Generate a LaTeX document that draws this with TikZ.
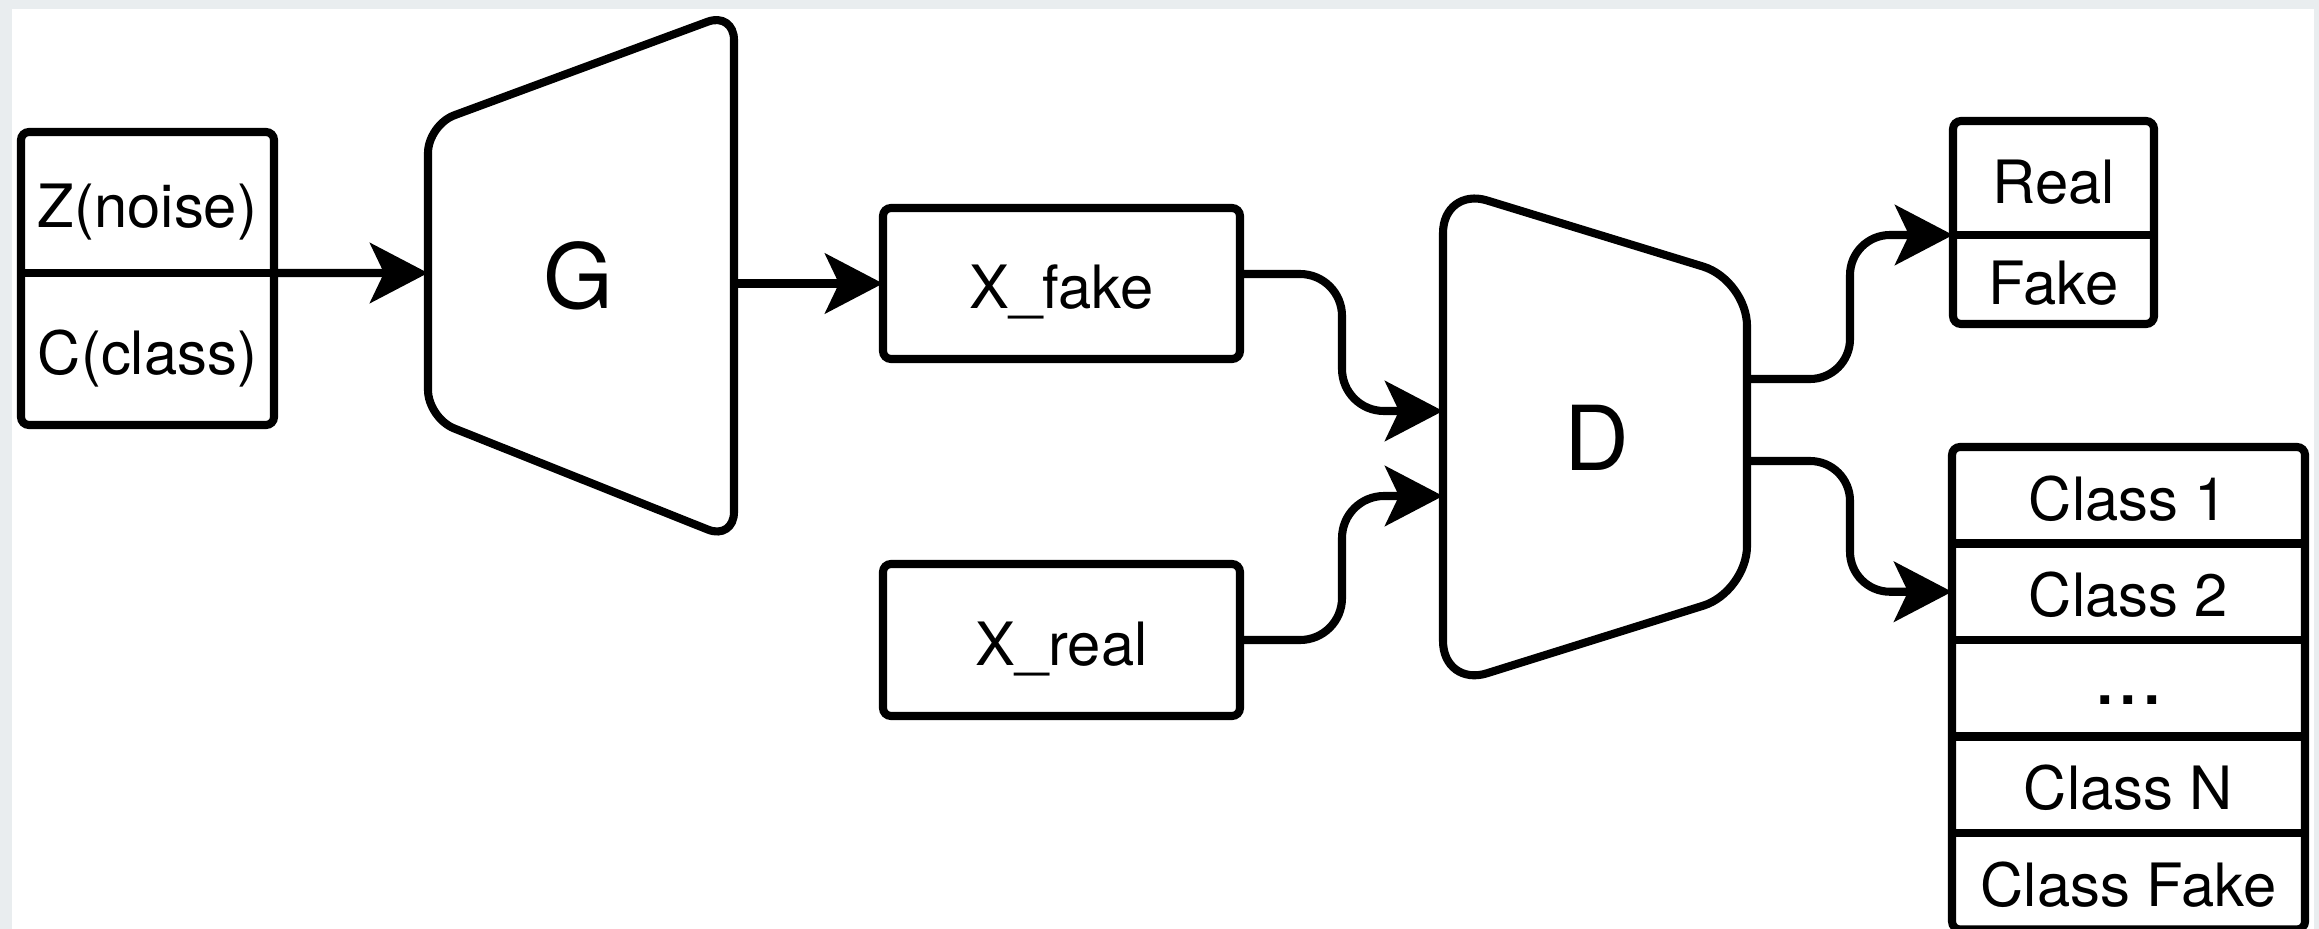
\documentclass[tikz,border=0pt]{standalone}
\usepackage{fontspec}
\setmainfont{TeX Gyre Heros}
\usetikzlibrary{arrows.meta,positioning}
\definecolor{framegray}{RGB}{233,237,239}
\tikzset{
  stroke/.style={line width=2.3pt},
  box/.style={stroke, draw, rounded corners=0.8mm},
  cell/.style={inner sep=0pt, outer sep=0pt, text height=5mm, text depth=0pt,
    font=\fontsize{17}{20}\selectfont},
  big/.style={inner sep=0pt, font=\fontsize{25.5}{30}\selectfont},
  arr/.style={stroke, -{Stealth[length=5.8mm, width=6mm, inset=1.4mm]}},
}
\begin{document}
\begin{tikzpicture}[x=0.1mm,y=-0.1mm]
  \useasboundingbox (0,0) rectangle (2319,929);
  \fill[framegray] (0,0) rectangle (2319,929);
  \fill[white] (12,9) rectangle (2314,935);

  % generator input: noise and class
  \node[cell, minimum width=25.3mm, minimum height=14.1mm] (noise) at (147.5,202.5) {Z(noise)};
  \node[cell, minimum width=25.3mm, minimum height=15.2mm, below=0pt of noise] (class) {C(class)};
  \draw[box] (noise.north west) rectangle (class.south east);
  \draw[stroke] (noise.south west) -- (noise.south east);

  % generator
  \draw[stroke, rounded corners=2.8mm] (428,125) -- (734,12) -- (734,540) -- (428,418) -- cycle;
  \node[big] (gen) at (578,276) {G};
  \coordinate (genin) at (428,273);
  \coordinate (genout) at (734,283.5);
  \draw[arr] (noise.south east) -- (genin);

  % samples
  \node[box, cell, minimum width=35.7mm, minimum height=15.1mm] (xfake) at (1061.5,283.5) {X\_fake};
  \node[box, cell, minimum width=35.7mm, minimum height=15.2mm] (xreal) at (1061.5,640) {X\_real};
  \draw[arr] (genout) -- (xfake.west);

  % discriminator
  \draw[stroke, rounded corners=4.6mm] (1443,187) -- (1747,280) -- (1747,592) -- (1443,687) -- cycle;
  \node[big] (disc) at (1597,438) {D};
  \coordinate (discin1) at (1443,411);
  \coordinate (discin2) at (1443,496);
  \coordinate (discout1) at (1747,379);
  \coordinate (discout2) at (1747,461);
  \coordinate (inbend) at (1342,0);
  \coordinate (outbend) at (1850,0);

  \draw[arr, rounded corners=4.2mm] ([yshift=0.95mm]xfake.east) coordinate (fakeout)
    -- (fakeout -| inbend) -- (discin1 -| inbend) -- (discin1);
  \draw[arr, rounded corners=4.2mm] (xreal.east)
    -- (xreal.east -| inbend) -- (discin2 -| inbend) -- (discin2);

  % real / fake output
  \node[cell, minimum width=20.1mm, minimum height=11.4mm] (real) at (2053.5,178) {Real};
  \node[cell, minimum width=20.1mm, minimum height=8.9mm, below=0pt of real] (fake) {Fake};
  \draw[box] (real.north west) rectangle (fake.south east);
  \draw[stroke] (real.south west) -- (real.south east);

  % class output
  \node[cell, minimum width=35.3mm, minimum height=9.65mm] (cls1) at (2128.5,495.25) {Class 1};
  \node[cell, minimum width=35.3mm, minimum height=9.65mm, below=0pt of cls1] (cls2) {Class 2};
  \node[cell, minimum width=35.3mm, minimum height=9.65mm, below=0pt of cls2,
    font=\fontsize{24}{24}\selectfont, text height=3.2mm] (clsdots) {...};
  \node[cell, minimum width=35.3mm, minimum height=9.65mm, below=0pt of clsdots] (clsn) {Class N};
  \node[cell, minimum width=35.3mm, minimum height=9.65mm, below=0pt of clsn] (clsfake) {Class Fake};
  \draw[box] (cls1.north west) rectangle (clsfake.south east);
  \foreach \c in {cls1,cls2,clsdots,clsn}
    \draw[stroke] (\c.south west) -- (\c.south east);

  \draw[arr, rounded corners=4mm] (discout1)
    -- (discout1 -| outbend) -- (real.south west -| outbend) -- (real.south west);
  \draw[arr, rounded corners=4mm] (discout2)
    -- (discout2 -| outbend) -- (cls2.west -| outbend) -- (cls2.west);
\end{tikzpicture}
\end{document}
